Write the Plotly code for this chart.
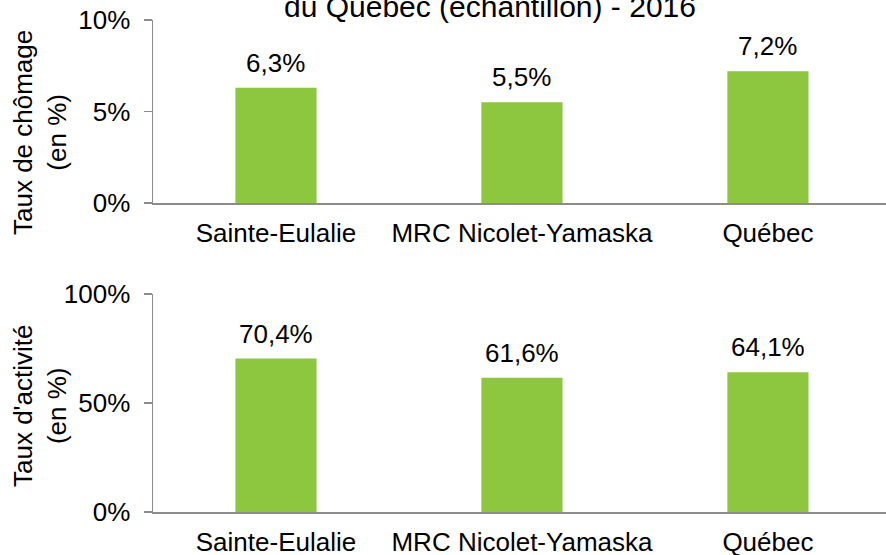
import plotly.graph_objects as go

categories = ["Sainte-Eulalie", "MRC Nicolet-Yamaska", "Québec"]
chomage = [6.3, 5.5, 7.2]
activite = [70.4, 61.6, 64.1]
chomage_labels = ["6,3%", "5,5%", "7,2%"]
activite_labels = ["70,4%", "61,6%", "64,1%"]
chomage_ticks = [0, 5, 10]
chomage_ticktext = ["0%", "5%", "10%"]
activite_ticks = [0, 50, 100]
activite_ticktext = ["0%", "50%", "100%"]
title_text = "du Québec (échantillon) - 2016"

W, H = 886, 555
GREEN = "#8DC63F"
AXIS = "#8C8C8C"
FONT = "Liberation Sans, Arial, sans-serif"
FS = 26

fig = go.Figure()
fig.add_trace(go.Bar(x=categories, y=chomage, marker_color=GREEN, width=0.33,
                     marker_line_width=0, xaxis="x", yaxis="y", hoverinfo="skip"))
fig.add_trace(go.Bar(x=categories, y=activite, marker_color=GREEN, width=0.33,
                     marker_line_width=0, xaxis="x2", yaxis="y2", hoverinfo="skip"))

left = 153 / W
def ydom(top_px, bot_px):
    return [1 - bot_px / H, 1 - top_px / H]

xcommon = dict(domain=[left, 1], range=[-0.5, 2.48], showline=True, linecolor=AXIS, linewidth=1.5,
               ticks="", showgrid=False, zeroline=False, ticklabelstandoff=6, automargin=False,
               tickfont=dict(size=FS, family=FONT, color="black"), fixedrange=True)
ycommon = dict(showline=True, linecolor=AXIS, linewidth=1.5, ticks="outside", ticklen=8,
               tickcolor=AXIS, tickwidth=1.5, showgrid=False, zeroline=False, ticklabelstandoff=8,
               automargin=False, fixedrange=True, tickfont=dict(size=FS, family=FONT, color="black"))

annotations = [
    dict(text=title_text, x=490 / W, y=1 - 6.5 / H, xref="paper", yref="paper",
         showarrow=False, font=dict(size=30, family=FONT), xanchor="center", yanchor="middle"),
    dict(text="Taux de chômage<br>(en %)", x=40 / W, y=1 - 133 / H, xref="paper", yref="paper",
         showarrow=False, textangle=-90, font=dict(size=FS, family=FONT),
         xanchor="center", yanchor="middle"),
    dict(text="Taux d'activité<br>(en %)", x=40 / W, y=1 - 406 / H, xref="paper", yref="paper",
         showarrow=False, textangle=-90, font=dict(size=FS, family=FONT),
         xanchor="center", yanchor="middle"),
]
for c, v, t in zip(categories, chomage, chomage_labels):
    annotations.append(dict(text=t, x=c, y=v, xref="x", yref="y", showarrow=False,
                            yanchor="bottom", yshift=8, font=dict(size=FS, family=FONT)))
for c, v, t in zip(categories, activite, activite_labels):
    annotations.append(dict(text=t, x=c, y=v, xref="x2", yref="y2", showarrow=False,
                            yanchor="bottom", yshift=8, font=dict(size=FS, family=FONT)))

fig.update_layout(
    width=W, height=H, margin=dict(l=0, r=0, t=0, b=0),
    paper_bgcolor="white", plot_bgcolor="white", showlegend=False,
    font=dict(family=FONT, size=FS, color="black"),
    xaxis=dict(anchor="y", **xcommon),
    yaxis=dict(domain=ydom(20, 203), range=[0, 10], tickvals=chomage_ticks,
               ticktext=chomage_ticktext, anchor="x", **ycommon),
    xaxis2=dict(anchor="y2", **xcommon),
    yaxis2=dict(domain=ydom(294, 512), range=[0, 100], tickvals=activite_ticks,
                ticktext=activite_ticktext, anchor="x2", **ycommon),
    annotations=annotations,
)

fig.write_html("out.html", config={"displayModeBar": False, "staticPlot": True},
               post_script="document.body.style.margin='0';document.body.style.overflow='hidden';")
